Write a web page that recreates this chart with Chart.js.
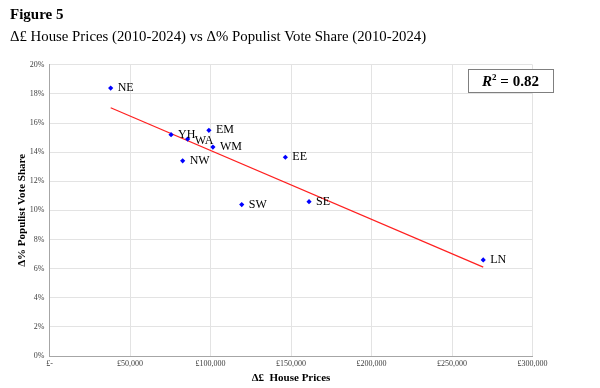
<!DOCTYPE html>
<html>
<head>
<meta charset="utf-8">
<script src="https://cdn.jsdelivr.net/npm/chart.js@4/dist/chart.umd.min.js"></script>
<style>
  html, body { margin: 0; padding: 0; background: #fff; }
  #wrap { width: 600px; height: 388px; }
</style>
</head>
<body>
<div id="wrap"><canvas id="scatterChart"></canvas></div>
<script>
// regions and values
const regions = ["NE", "YH", "WA", "EM", "WM", "NW", "EE", "SW", "SE", "LN"];
const housePriceChange = [38000, 75500, 85800, 99000, 101500, 82700, 146500, 119400, 161200, 269400];
const populistShareChange = [18.4, 15.2, 14.9, 15.5, 14.35, 13.4, 13.65, 10.4, 10.6, 6.6];

// fitted trend line end points
const trendX = [38000, 269400];
const trendY = [17.05, 6.1];

const rSquared = "0.82";

const serif = "'Liberation Serif', 'Times New Roman', serif";

const points = housePriceChange.map((x, i) => ({ x: x, y: populistShareChange[i] }));
const trend = trendX.map((x, i) => ({ x: x, y: trendY[i] }));

const labelPlugin = {
  id: "regionLabels",
  afterDatasetsDraw(chart) {
    const ctx = chart.ctx;
    const xs = chart.scales.x;
    const ys = chart.scales.y;
    ctx.save();
    ctx.font = "12px " + serif;
    ctx.fillStyle = "#000";
    ctx.textAlign = "left";
    ctx.textBaseline = "middle";
    regions.forEach((name, i) => {
      const px = xs.getPixelForValue(housePriceChange[i]);
      const py = ys.getPixelForValue(populistShareChange[i]);
      ctx.fillText(name, px + 7, py + (name === "WA" ? 2 : 0));
    });

    // R² box
    const bx = 468, by = 69, bw = 85, bh = 23;
    ctx.fillStyle = "#fff";
    ctx.fillRect(bx, by, bw, bh);
    ctx.strokeStyle = "#7f7f7f";
    ctx.lineWidth = 1;
    ctx.strokeRect(bx + 0.5, by + 0.5, bw, bh);

    ctx.fillStyle = "#000";
    ctx.textBaseline = "alphabetic";
    const base = by + 17;
    ctx.font = "italic bold 15px " + serif;
    const rW = ctx.measureText("R").width;
    ctx.font = "bold 9px " + serif;
    const sW = ctx.measureText("2").width;
    ctx.font = "bold 15px " + serif;
    const rest = " = " + rSquared;
    const restW = ctx.measureText(rest).width;
    let tx = bx + (bw - (rW + sW + restW)) / 2;
    ctx.font = "italic bold 15px " + serif;
    ctx.fillText("R", tx, base);
    tx += rW;
    ctx.font = "bold 9px " + serif;
    ctx.fillText("2", tx, base - 6);
    tx += sW;
    ctx.font = "bold 15px " + serif;
    ctx.fillText(rest, tx, base);
    ctx.restore();
  }
};

const ctx = document.getElementById("scatterChart").getContext("2d");

new Chart(ctx, {
  type: "scatter",
  data: {
    datasets: [
      {
        label: "Regions",
        data: points,
        pointStyle: "rectRot",
        pointRadius: 2.6,
        pointHoverRadius: 2.6,
        backgroundColor: "#0000ff",
        borderColor: "#0000ff",
        borderWidth: 0,
        order: 1,
      },
      {
        type: "line",
        label: "Trend",
        data: trend,
        borderColor: "#ff2020",
        borderWidth: 1.2,
        pointRadius: 0,
        fill: false,
        order: 2,
      },
    ],
  },
  options: {
    responsive: true,
    maintainAspectRatio: false,
    animation: false,
    layout: {
      padding: { left: 10, right: 67.5, top: 0, bottom: 0 },
    },
    plugins: {
      legend: { display: false },
      tooltip: { enabled: false },
      title: {
        display: true,
        text: "Figure 5",
        align: "start",
        color: "#000",
        font: { family: serif, size: 15, weight: "bold", lineHeight: 1.2 },
        padding: { top: 6, bottom: 0 },
      },
      subtitle: {
        display: true,
        text: "Δ£ House Prices (2010-2024) vs Δ% Populist Vote Share (2010-2024)",
        align: "start",
        color: "#000",
        font: { family: serif, size: 14.8, lineHeight: 1.2 },
        padding: { top: 4.5, bottom: 18.5 },
      },
    },
    scales: {
      x: {
        type: "linear",
        min: 0,
        max: 300000,
        afterFit: function (scale) {
          scale.height = 32;
        },
        ticks: {
          stepSize: 50000,
          autoSkip: false,
          maxRotation: 0,
          padding: 3,
          color: "#404040",
          font: { family: serif, size: 8 },
          callback: function (v) {
            return v === 0 ? "£-" : "£" + v.toLocaleString("en-GB");
          },
        },
        grid: { color: "#e3e3e3", drawTicks: false },
        border: { color: "#a6a6a6", width: 1 },
        title: {
          display: true,
          text: "Δ£  House Prices",
          color: "#000",
          font: { family: serif, size: 11, weight: "bold", lineHeight: 1.2 },
          padding: { top: 0, bottom: 3.7 },
        },
      },
      y: {
        min: 0,
        max: 20,
        afterFit: function (scale) {
          scale.width = 39.5;
        },
        ticks: {
          stepSize: 2,
          padding: 5,
          color: "#404040",
          font: { family: serif, size: 8 },
          callback: function (v) {
            return v + "%";
          },
        },
        grid: { color: "#e3e3e3", drawTicks: false },
        border: { color: "#a6a6a6", width: 1 },
        title: {
          display: true,
          text: "Δ% Populist Vote Share",
          color: "#000",
          font: { family: serif, size: 11, weight: "bold", lineHeight: 1.2 },
          padding: { top: 5.4, bottom: 0 },
        },
      },
    },
  },
  plugins: [labelPlugin],
});
</script>
</body>
</html>
